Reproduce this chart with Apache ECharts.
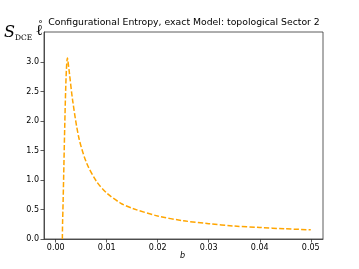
<!DOCTYPE html>
<html><head><meta charset="utf-8">
<script src="https://cdn.jsdelivr.net/npm/echarts@6/dist/echarts.min.js"></script>
<style>html,body{margin:0;padding:0;background:#fff}#c{width:359px;height:269px}</style>
</head><body><div id="c"></div>
<script>
var bValues = [0.0013, 0.00135, 0.0023, 0.0027, 0.0033, 0.0045, 0.006, 0.008, 0.01, 0.0127, 0.015, 0.02, 0.025, 0.03, 0.035, 0.04, 0.045, 0.05];
var entropy = [0.0, 0.3, 3.07, 2.8, 2.36, 1.73, 1.3, 0.975, 0.78, 0.61, 0.52, 0.39, 0.31, 0.26, 0.22, 0.195, 0.173, 0.156];
var xTicks = [0, 0.01, 0.02, 0.03, 0.04, 0.05];
var yTicks = [0, 0.5, 1.0, 1.5, 2.0, 2.5, 3.0];
var titleText = 'Configurational Entropy, exact Model: topological Sector 2';

var chart = echarts.init(document.getElementById('c'), null, {renderer: 'canvas'});
var data = bValues.map(function (b, i) { return [b, entropy[i]]; });
var axisCol = '#333';
chart.setOption({
  animation: false,
  grid: {left: 44, right: 36, top: 32, bottom: 30, show: true, borderColor: axisCol, borderWidth: 0.8},
  graphic: [
    {type: 'text', x: 184, y: 27, style: {text: titleText, font: '9.3px DejaVu Sans', fill: '#000',
      textAlign: 'center', textVerticalAlign: 'bottom'}},
    {type: 'text', left: 4, top: 25, style: {
      text: '{s|S}{d|DCE}',
      rich: {
        s: {fontFamily: 'DejaVu Serif', fontStyle: 'italic', fontSize: 16, fill: '#000'},
        d: {fontFamily: 'DejaVu Serif', fontSize: 7.5, fill: '#000', padding: [10, 0, 0, 0]}
      }}},
    {type: 'text', left: 36, top: 24, style: {text: 'ℓ', font: '15px DejaVu Serif', fill: '#000'}},
    {type: 'text', left: 38, top: 21, style: {text: '˚', font: '10px DejaVu Serif', fill: '#000'}},
    {type: 'text', left: 180, top: 252, style: {text: 'b', font: 'italic 8px DejaVu Sans', fill: '#000'}}
  ],
  xAxis: {type: 'value', min: -0.0023, max: 0.0524,
    axisLine: {show: true, onZero: false, lineStyle: {color: axisCol, width: 0.8}},
    axisTick: {show: true, length: 3.5, lineStyle: {color: axisCol, width: 0.8}, customValues: xTicks},
    axisLabel: {show: true, fontFamily: 'DejaVu Sans', fontSize: 8, color: '#000', margin: 5,
      customValues: xTicks, formatter: function (v) { return v.toFixed(2); }},
    splitLine: {show: false}},
  yAxis: {type: 'value', min: 0, max: 3.51,
    axisLine: {show: true, onZero: false, lineStyle: {color: axisCol, width: 0.8}},
    axisTick: {show: true, length: 3.5, lineStyle: {color: axisCol, width: 0.8}, customValues: yTicks},
    axisLabel: {show: true, fontFamily: 'DejaVu Sans', fontSize: 8, color: '#000', margin: 5,
      customValues: yTicks, formatter: function (v) { return v.toFixed(1); }},
    splitLine: {show: false}},
  series: [{type: 'line', data: data, smooth: 0.3, showSymbol: false,
    lineStyle: {color: '#ffa500', width: 1.5, type: [5.2, 2.2]}}]
});
</script></body></html>
